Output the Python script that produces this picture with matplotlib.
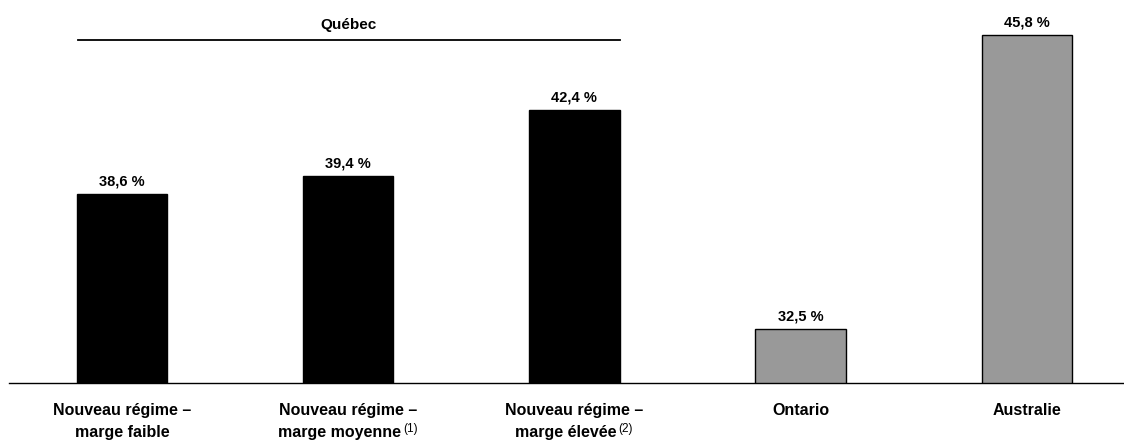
import matplotlib.pyplot as plt
import matplotlib.transforms as mtransforms

plt.rcParams['font.family'] = ['Liberation Sans', 'DejaVu Sans']

categories = [
    "Nouveau régime –\nmarge faible",
    "Nouveau régime –\nmarge moyenne",
    "Nouveau régime –\nmarge élevée",
    "Ontario",
    "Australie",
]
notes = ["", "(1)", "(2)", "", ""]
values = [38.6, 39.4, 42.4, 32.5, 45.8]
value_labels = ["38,6 %", "39,4 %", "42,4 %", "32,5 %", "45,8 %"]
colors = ["black", "black", "black", "#999999", "#999999"]

fig = plt.figure(figsize=(11.24, 4.43), dpi=100)
ax = fig.add_axes([9 / 1124, 60 / 443, 1 - 9 / 1124, 383 / 443])

x = list(range(len(values)))
ax.bar(x, values, width=0.4, color=colors, edgecolor="black", linewidth=1.0, zorder=2)

for xi, v, lab in zip(x, values, value_labels):
    ax.annotate(lab, (xi, v), xytext=(0, 4), textcoords="offset points",
                ha="center", va="bottom", fontsize=10.5, fontweight="bold")

ax.set_xlim(-0.5, 4.43)
ax.set_ylim(30.05, 47.38)

for s in ["top", "right", "left"]:
    ax.spines[s].set_visible(False)
ax.spines["bottom"].set_linewidth(1.0)
ax.set_yticks([])
ax.set_xticks([])

# category labels drawn line by line so the footnote marks can sit after line 2
trans = mtransforms.blended_transform_factory(ax.transData, ax.transAxes)
line_offsets = [-19.5, -35.3]
for xi, cat, note in zip(x, categories, notes):
    last = None
    for i, (line, off) in enumerate(zip(cat.split("\n"), line_offsets)):
        dx = -6 if (note and i == 1) else 0
        last = ax.annotate(line, (xi, 0), xycoords=trans, xytext=(dx, off),
                           textcoords="offset points", ha="center", va="center",
                           fontsize=11.5, fontweight="bold")
    if note:
        ax.annotate(note, xy=(1, 0.72), xycoords=last, xytext=(1, 0),
                    textcoords="offset points", ha="left", va="center",
                    fontsize=8.5)

# Québec group bracket
ax.plot([-0.195, 2.2], [0.896, 0.896], color="black", linewidth=1.3,
        transform=trans, clip_on=False)
ax.text(1.0, 0.935, "Québec", transform=trans, ha="center", va="center",
        fontsize=11, fontweight="bold")

fig.savefig("out.png", dpi=100)
